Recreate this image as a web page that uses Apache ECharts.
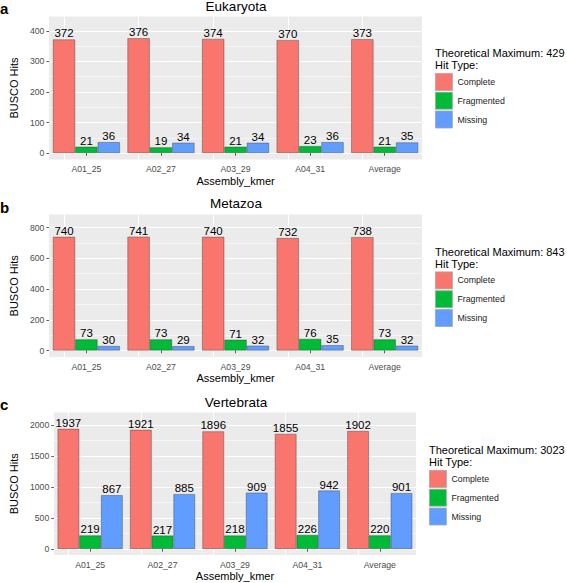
<!DOCTYPE html>
<html>
<head>
<meta charset="utf-8">
<script src="https://cdn.jsdelivr.net/npm/echarts@6/dist/echarts.min.js"></script>
<style>html,body{margin:0;padding:0;background:#fff}#c{width:567px;height:583px}</style>
</head>
<body>
<div id="c"></div>
<script>
// ---- data ----
const categories = ['A01_25', 'A02_27', 'A03_29', 'A04_31', 'Average'];
const hitTypes = ['Complete', 'Fragmented', 'Missing'];
const panelNames = ['Eukaryota', 'Metazoa', 'Vertebrata'];
const panelLetters = ['a', 'b', 'c'];
const theoreticalMax = [429, 843, 3023];

const eukaryotaComplete = [372, 376, 374, 370, 373];
const eukaryotaFragmented = [21, 19, 21, 23, 21];
const eukaryotaMissing = [36, 34, 34, 36, 35];

const metazoaComplete = [740, 741, 740, 732, 738];
const metazoaFragmented = [73, 73, 71, 76, 73];
const metazoaMissing = [30, 29, 32, 35, 32];

const vertebrataComplete = [1937, 1921, 1896, 1855, 1902];
const vertebrataFragmented = [219, 217, 218, 226, 220];
const vertebrataMissing = [867, 885, 909, 942, 901];

const eukaryotaTicks = [0, 100, 200, 300, 400];
const metazoaTicks = [0, 200, 400, 600, 800];
const vertebrataTicks = [0, 500, 1000, 1500, 2000];
const eukaryotaMinor = [50, 150, 250, 350];
const metazoaMinor = [100, 300, 500, 700];
const vertebrataMinor = [250, 750, 1250, 1750];

// ---- assembly ----
const panelData = [
  [eukaryotaComplete, eukaryotaFragmented, eukaryotaMissing],
  [metazoaComplete, metazoaFragmented, metazoaMissing],
  [vertebrataComplete, vertebrataFragmented, vertebrataMissing]
];
const panelTicks = [eukaryotaTicks, metazoaTicks, vertebrataTicks];
const panelMinor = [eukaryotaMinor, metazoaMinor, vertebrataMinor];

// layout (pixels / axis extents)
const FONT = "'Liberation Sans', Arial, Helvetica, sans-serif";
const colors = ['#F8766D', '#00BA38', '#619CFF'];
const layout = [
  { left: 34, right: 145, top: 16.5, height: 143, ymin: -21, ymax: 447, nameGap: 23.5, legendLeft: 435, legendTop: 73, titleY: 6, letterY: 8, legTitleY: 53 },
  { left: 34, right: 145, top: 214.6, height: 142.5, ymin: -42.5, ymax: 884, nameGap: 23.5, legendLeft: 435, legendTop: 271.5, titleY: 203, letterY: 207, legTitleY: 252 },
  { left: 38, right: 151, top: 412.5, height: 142.5, ymin: -97, ymax: 2199, nameGap: 27, legendLeft: 429, legendTop: 470, titleY: 402, letterY: 404, legTitleY: 450 }
];

const grid = [], xAxis = [], yAxis = [], series = [], legend = [], graphic = [];
layout.forEach((L, p) => {
  grid.push({ left: L.left, right: L.right, top: L.top, height: L.height, show: true, backgroundColor: '#EBEBEB', borderWidth: 0, containLabel: false });
  xAxis.push({
    gridIndex: p, type: 'category', data: categories, boundaryGap: true,
    axisLine: { show: false },
    axisTick: { show: true, alignWithLabel: true, length: 2.7, lineStyle: { color: '#333', width: 0.8 } },
    axisLabel: { color: '#4D4D4D', fontSize: 8.7, fontFamily: FONT, margin: 5 },
    splitLine: { show: false },
    name: 'Assembly_kmer', nameLocation: 'middle', nameGap: 15.5,
    nameTextStyle: { color: '#000', fontSize: 11, fontFamily: FONT }
  });
  yAxis.push({
    gridIndex: p, type: 'value', min: L.ymin, max: L.ymax,
    axisLine: { show: false },
    axisTick: { show: true, length: 2.7, customValues: panelTicks[p], lineStyle: { color: '#333', width: 0.8 } },
    axisLabel: { customValues: panelTicks[p], formatter: v => String(v), color: '#4D4D4D', fontSize: 8.7, fontFamily: FONT, margin: 4.7 },
    splitLine: { show: true, lineStyle: { color: '#FFFFFF', width: 1 } },
    name: 'BUSCO Hits', nameLocation: 'middle', nameRotate: 90, nameGap: L.nameGap,
    nameTextStyle: { color: '#000', fontSize: 11, fontFamily: FONT }
  });
  yAxis.push({
    gridIndex: p, type: 'value', min: L.ymin, max: L.ymax, position: 'right',
    axisLine: { show: false },
    axisTick: { show: false, customValues: panelMinor[p] },
    axisLabel: { show: false, customValues: panelMinor[p] },
    splitLine: { show: true, lineStyle: { color: '#FFFFFF', width: 0.5 } }
  });
  hitTypes.forEach((h, k) => {
    const s = {
      type: 'bar', name: h, xAxisIndex: p, yAxisIndex: 2 * p,
      data: panelData[p][k], barWidth: '30%', barGap: '0%', z: 3,
      itemStyle: { color: colors[k], borderColor: 'rgba(50,50,50,0.55)', borderWidth: 0.7 },
      label: { show: true, position: 'top', distance: 0, color: '#000', fontSize: 11.5, fontFamily: FONT },
      emphasis: { disabled: true }, silent: true
    };
    if (k === 0) {
      s.markLine = {
        silent: true, symbol: ['none', 'none'], z: 1, animation: false,
        label: { show: false }, emphasis: { disabled: true },
        lineStyle: { color: '#FFFFFF', width: 1, type: 'solid' },
        data: categories.map(c => ({ xAxis: c }))
      };
    }
    series.push(s);
  });
  legend.push({
    left: L.legendLeft, top: L.legendTop, orient: 'vertical', padding: 0,
    itemWidth: 17, itemHeight: 17, itemGap: 1, icon: 'rect', selectedMode: false,
    data: hitTypes,
    itemStyle: { borderColor: '#A6A6A6', borderWidth: 0.8 },
    textStyle: { color: '#1a1a1a', fontSize: 8.8, fontFamily: FONT }
  });
  graphic.push(
    { type: 'text', x: 236, y: L.titleY, style: { text: panelNames[p], fill: '#000', font: '13.5px ' + FONT, align: 'center', verticalAlign: 'middle' } },
    { type: 'text', x: 0, y: L.letterY, style: { text: panelLetters[p], fill: '#000', font: 'bold 15px ' + FONT, align: 'left', verticalAlign: 'middle' } },
    { type: 'text', x: L.legendLeft, y: L.legTitleY, style: { text: 'Theoretical Maximum: ' + theoreticalMax[p], fill: '#000', font: '11px ' + FONT, align: 'left', verticalAlign: 'middle' } },
    { type: 'text', x: L.legendLeft, y: L.legTitleY + 11.5, style: { text: 'Hit Type:', fill: '#000', font: '11px ' + FONT, align: 'left', verticalAlign: 'middle' } }
  );
});

const chart = echarts.init(document.getElementById('c'), null, { renderer: 'svg' });
chart.setOption({
  animation: false,
  backgroundColor: '#FFFFFF',
  grid, xAxis, yAxis, series, legend, graphic
});
</script>
</body>
</html>
